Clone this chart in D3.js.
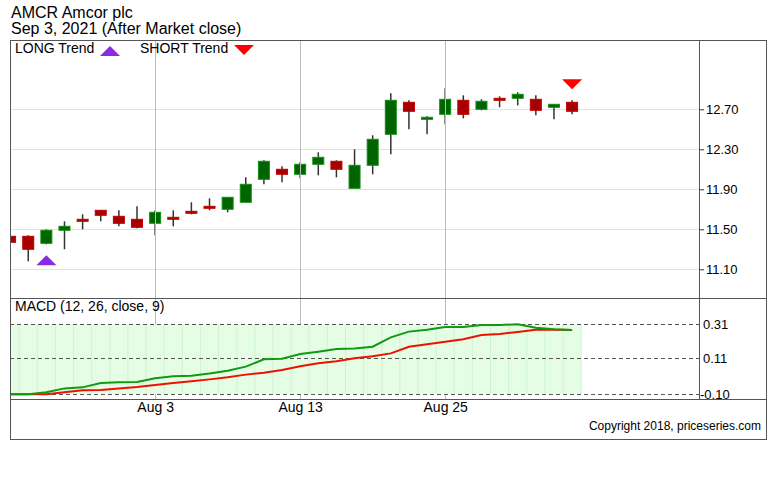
<!DOCTYPE html>
<html>
<head>
<meta charset="utf-8">
<script src="https://cdn.jsdelivr.net/npm/d3@7"></script>
<style>
  body { margin: 0; background: #fff; }
  svg { display: block; font-family: "Liberation Sans", Arial, sans-serif; }
</style>
</head>
<body>
<svg id="chart" width="780" height="500"></svg>
<script>
// ---- data ----
const dates = ["Jul 22","Jul 23","Jul 26","Jul 27","Jul 28","Jul 29","Jul 30","Aug 2","Aug 3","Aug 4","Aug 5","Aug 6","Aug 9","Aug 10","Aug 11","Aug 12","Aug 13","Aug 16","Aug 17","Aug 18","Aug 19","Aug 20","Aug 23","Aug 24","Aug 25","Aug 26","Aug 27","Aug 30","Aug 31","Sep 1","Sep 2","Sep 3"];
const open  = [11.43,11.43,11.36,11.49,11.60,11.69,11.63,11.60,11.56,11.62,11.68,11.73,11.70,11.77,12.00,12.10,12.05,12.15,12.18,11.91,12.14,12.45,12.77,12.60,12.65,12.79,12.70,12.81,12.81,12.80,12.72,12.77];
const high  = [11.46,11.44,11.50,11.58,11.65,11.69,11.69,11.73,11.69,11.69,11.77,11.81,11.82,12.02,12.19,12.13,12.17,12.27,12.19,12.30,12.44,12.86,12.79,12.63,12.91,12.84,12.80,12.83,12.87,12.84,12.75,12.79];
const low   = [11.27,11.18,11.35,11.30,11.50,11.58,11.53,11.51,11.44,11.53,11.65,11.69,11.67,11.77,11.95,11.97,12.01,12.04,12.02,11.91,12.05,12.25,12.50,12.45,12.55,12.61,12.69,12.72,12.74,12.64,12.60,12.65];
const close = [11.37,11.30,11.49,11.53,11.58,11.64,11.56,11.52,11.67,11.60,11.66,11.71,11.82,11.95,12.18,12.05,12.15,12.22,12.10,12.14,12.40,12.79,12.68,12.62,12.80,12.65,12.78,12.79,12.85,12.69,12.75,12.68];
const macd   = [-0.102,-0.102,-0.090,-0.067,-0.061,-0.035,-0.031,-0.029,-0.008,0.004,0.008,0.020,0.037,0.061,0.104,0.108,0.135,0.149,0.165,0.167,0.178,0.233,0.267,0.278,0.294,0.294,0.306,0.306,0.310,0.290,0.281,0.276];
const signal = [-0.102,-0.102,-0.102,-0.090,-0.078,-0.076,-0.067,-0.059,-0.047,-0.035,-0.025,-0.014,-0.002,0.014,0.025,0.041,0.063,0.081,0.092,0.110,0.122,0.139,0.178,0.192,0.208,0.222,0.247,0.253,0.265,0.278,0.278,0.276];
const priceTicks = [11.10, 11.50, 11.90, 12.30, 12.70];
const macdTicks = [-0.10, 0.11, 0.31];
const dateTicks = ["Aug 3", "Aug 13", "Aug 25"];
const longSignals = [2];
const shortSignals = [31];
const titleLines = ["AMCR Amcor plc", "Sep 3, 2021 (After Market close)"];

// ---- layout ----
const L = 10, R = 766, AX = 699, TOP = 40, MID = 298, MB = 399, BOT = 439;
const svg = d3.select("#chart");
const n = dates.length;
const x = d3.scaleLinear().domain([0, 38]).range([10.1, AX]);
const step = x(1) - x(0);
const y = d3.scaleLinear().domain([10.813, 13.393]).range([MID, TOP]);
const ym = d3.scaleLinear().domain([-0.10, 0.31]).range([394, 324.3]);
const fmt2 = v => d3.format(".2f")(v).replace("\u2212", "-");

const defs = svg.append("defs");
defs.append("clipPath").attr("id", "cp").append("rect").attr("x", L).attr("y", TOP).attr("width", AX - L).attr("height", MID - TOP);
defs.append("clipPath").attr("id", "cm").append("rect").attr("x", L).attr("y", MID).attr("width", AX - L).attr("height", MB - MID);

// titles
svg.selectAll("text.title").data(titleLines).join("text")
  .attr("class", "title").attr("x", 11).attr("y", (d, i) => 18 + i * 16)
  .attr("font-size", 16).attr("fill", "#000").text(d => d);

// ---- price panel ----
const gp = svg.append("g").attr("clip-path", "url(#cp)");
gp.selectAll("line.hg").data(priceTicks).join("line")
  .attr("x1", L).attr("x2", AX).attr("y1", d => Math.round(y(d)) + 0.5).attr("y2", d => Math.round(y(d)) + 0.5)
  .attr("stroke", "#e0e0e0").attr("stroke-width", 1);

const tickIdx = dateTicks.map(t => dates.indexOf(t));
svg.selectAll("line.vg").data(tickIdx).join("line")
  .attr("x1", d => Math.round(x(d)) + 0.5).attr("x2", d => Math.round(x(d)) + 0.5)
  .attr("y1", TOP).attr("y2", MB).attr("stroke", "#bbbbbb").attr("stroke-width", 1);

const idx = d3.range(n);
gp.selectAll("line.wick").data(idx).join("line")
  .attr("x1", i => x(i)).attr("x2", i => x(i))
  .attr("y1", i => y(high[i])).attr("y2", i => y(low[i]))
  .attr("stroke", "#333").attr("stroke-width", 1.5);
gp.selectAll("rect.body").data(idx).join("rect")
  .attr("x", i => x(i) - 5.5).attr("width", 11)
  .attr("y", i => y(Math.max(open[i], close[i])))
  .attr("height", i => Math.max(1.5, Math.abs(y(open[i]) - y(close[i]))))
  .attr("fill", i => close[i] >= open[i] ? "#006400" : "#a80000")
  .attr("stroke", i => close[i] >= open[i] ? "#119011" : "#c00000")
  .attr("stroke-width", 1);

// trend markers
gp.selectAll("path.long").data(longSignals).join("path")
  .attr("d", i => { const cx = x(i), t = y(low[i]) + 11; return `M${cx - 10},${t + 10}L${cx + 10},${t + 10}L${cx},${t}Z`; })
  .attr("fill", "#8a2be2");
gp.selectAll("path.short").data(shortSignals).join("path")
  .attr("d", i => { const cx = x(i), b = y(high[i]) - 11; return `M${cx - 10},${b - 10}L${cx + 10},${b - 10}L${cx},${b}Z`; })
  .attr("fill", "#ff0000");

// legend
svg.append("text").attr("x", 15).attr("y", 53).attr("font-size", 14).text("LONG Trend");
svg.append("path").attr("d", "M100,56L120,56L110,46Z").attr("fill", "#8a2be2");
svg.append("text").attr("x", 140).attr("y", 53).attr("font-size", 14).text("SHORT Trend");
svg.append("path").attr("d", "M234,45L254,45L244,55Z").attr("fill", "#ff0000");

// price axis
const pAxis = svg.append("g").attr("transform", `translate(${AX},0)`)
  .call(d3.axisRight(y).tickValues(priceTicks).tickFormat(fmt2).tickSize(5).tickPadding(2));
pAxis.select(".domain").remove();
pAxis.selectAll("line").attr("stroke", "#333");
pAxis.selectAll("text").attr("font-size", 13).attr("font-family", "Liberation Sans, Arial, sans-serif").attr("fill", "#000");

// ---- MACD panel ----
const gm = svg.append("g").attr("clip-path", "url(#cm)");
gm.append("rect").attr("x", x(0) - step / 2).attr("width", x(n - 1) - x(0) + step)
  .attr("y", ym(0.31)).attr("height", ym(-0.10) - ym(0.31)).attr("fill", "#e4fde4");
gm.selectAll("line.mg").data(d3.range(n)).join("line")
  .attr("x1", i => x(i) + step / 2).attr("x2", i => x(i) + step / 2)
  .attr("y1", ym(0.31)).attr("y2", ym(-0.10)).attr("stroke", "#cdf5cd").attr("stroke-width", 1);
gm.selectAll("line.dash").data(macdTicks).join("line")
  .attr("x1", L).attr("x2", AX).attr("y1", d => Math.round(ym(d)) + 0.5).attr("y2", d => Math.round(ym(d)) + 0.5)
  .attr("stroke", "#555").attr("stroke-dasharray", "4,3").attr("stroke-width", 1);
const lineGen = arr => d3.line().x((d, i) => x(i)).y(d => ym(d))(arr);
gm.append("path").attr("d", lineGen(signal)).attr("fill", "none").attr("stroke", "#ee1100").attr("stroke-width", 2);
gm.append("path").attr("d", lineGen(macd)).attr("fill", "none").attr("stroke", "#119911").attr("stroke-width", 2);
svg.append("text").attr("x", 15).attr("y", 311).attr("font-size", 14).text("MACD (12, 26, close, 9)");

const mAxis = svg.append("g").attr("transform", `translate(${AX},0)`)
  .call(d3.axisRight(ym).tickValues(macdTicks).tickFormat(fmt2).tickSize(0).tickPadding(4));
mAxis.select(".domain").remove();
mAxis.selectAll("text").attr("font-size", 13).attr("font-family", "Liberation Sans, Arial, sans-serif").attr("fill", "#000")
  .attr("dx", d => d < 0 ? -3 : 0);

// x axis
const xAxis = svg.append("g").attr("transform", `translate(0,${MB})`)
  .call(d3.axisBottom(x).tickValues(tickIdx).tickFormat(i => dates[i]).tickSize(0).tickPadding(3));
xAxis.select(".domain").remove();
xAxis.selectAll("text").attr("font-size", 14).attr("font-family", "Liberation Sans, Arial, sans-serif").attr("fill", "#000");

// frames
const fc = "#555";
svg.append("rect").attr("x", L + 0.5).attr("y", TOP + 0.5).attr("width", R - L).attr("height", BOT - TOP)
  .attr("fill", "none").attr("stroke", fc);
[MID, MB].forEach(yy => svg.append("line").attr("x1", L).attr("x2", R + 0.5).attr("y1", yy + 0.5).attr("y2", yy + 0.5).attr("stroke", fc));
svg.append("line").attr("x1", AX + 0.5).attr("x2", AX + 0.5).attr("y1", TOP).attr("y2", MB).attr("stroke", fc);

svg.append("text").attr("x", 761).attr("y", 430).attr("text-anchor", "end").attr("font-size", 12).text("Copyright 2018, priceseries.com");
</script>
</body>
</html>
